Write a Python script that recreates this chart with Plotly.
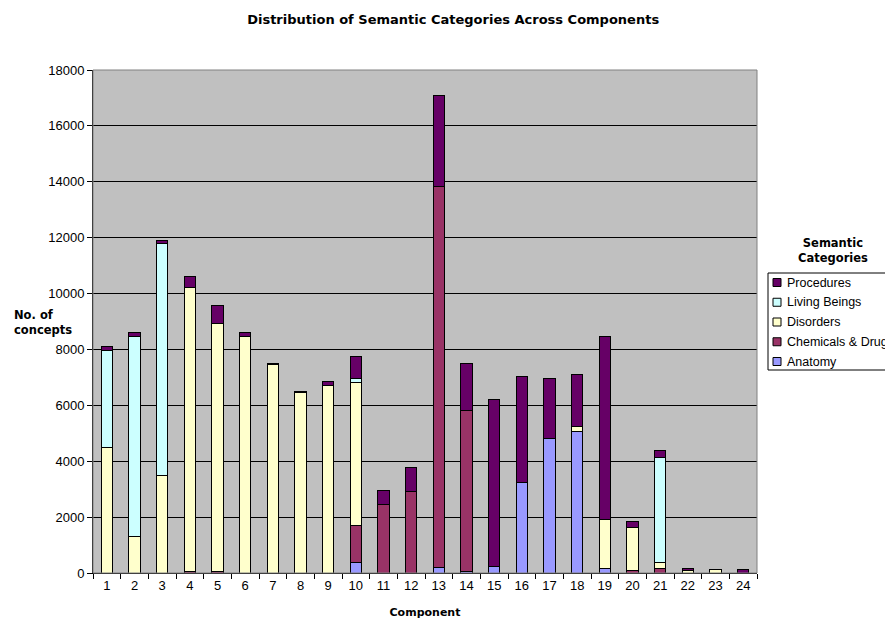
import plotly.graph_objects as go

components = [str(i) for i in range(1, 25)]
anatomy =   [0, 0, 0, 0, 0, 0, 0, 0, 0, 380, 0, 0, 190, 70, 230, 3250, 4800, 5080, 170, 0, 0, 0, 0, 0]
chemicals = [0, 0, 0, 50, 50, 0, 0, 0, 0, 1330, 2450, 2900, 13650, 5730, 0, 0, 0, 0, 0, 80, 150, 0, 0, 0]
disorders = [4500, 1300, 3500, 10150, 8880, 8450, 7450, 6450, 6700, 5120, 0, 0, 0, 0, 0, 0, 0, 180, 1730, 1540, 230, 100, 110, 0]
living =    [3450, 7160, 8300, 0, 0, 0, 0, 0, 0, 120, 0, 0, 0, 0, 0, 0, 0, 0, 0, 0, 3750, 0, 0, 0]
procedures = [150, 150, 100, 400, 650, 150, 50, 50, 150, 800, 500, 870, 3250, 1700, 5970, 3780, 2150, 1850, 6580, 240, 240, 60, 0, 120]

series = [
    ("Anatomy", anatomy, "#9999FF"),
    ("Chemicals & Drugs", chemicals, "#993366"),
    ("Disorders", disorders, "#FFFFCC"),
    ("Living Beings", living, "#CCFFFF"),
    ("Procedures", procedures, "#660066"),
]

fig = go.Figure()
for name, vals, col in series:
    fig.add_trace(go.Bar(
        x=components, y=vals, name=name, showlegend=False,
        marker=dict(color=col, line=dict(color="#000000", width=1)),
    ))

W, H = 885, 611
ML, MR, MT, MB = 85, 136, 62, 46
PW, PH = W - ML - MR, H - MT - MB


def px(fx):
    return (fx - ML) / PW


def py(fy):
    return (H - MB - fy) / PH


fig.update_layout(
    width=W, height=H,
    barmode="stack", bargap=0.6,
    paper_bgcolor="white", plot_bgcolor="#C0C0C0",
    margin=dict(l=ML, r=MR, t=MT, b=MB, autoexpand=False),
    font=dict(family="Liberation Sans, Arial", size=13, color="black"),
    title=dict(text="<b>Distribution of Semantic Categories Across Components</b>",
               x=0.503, xanchor="center", y=0.982, yanchor="middle",
               font=dict(family="DejaVu Sans", size=13, color="black")),
    showlegend=False,
)

fig.update_xaxes(
    type="category", tickson="boundaries", ticks="outside", ticklen=5,
    tickcolor="black", showline=True, linecolor="black", linewidth=1,
    showgrid=False, tickfont=dict(size=13),
    title=dict(text="<b>Component</b>", standoff=16,
               font=dict(family="DejaVu Sans", size=11)),
)
fig.update_yaxes(
    range=[0, 18000], dtick=2000, ticks="outside", ticklen=5, tickcolor="black",
    showline=True, linecolor="black", linewidth=1,
    showgrid=True, gridcolor="black", gridwidth=1, zeroline=False,
    tickformat="d", tickfont=dict(size=13),
)

fig.add_shape(type="rect", xref="paper", yref="paper", x0=0, y0=0, x1=1, y1=1,
              line=dict(color="#808080", width=1), layer="above")

# legend box (custom, Excel style)
box_top, box_bot = 265, 362
fig.add_shape(type="rect", xref="paper", yref="paper",
              x0=px(760), x1=px(890), y0=py(box_bot), y1=py(box_top),
              fillcolor="white", line=dict(color="black", width=1), layer="above")
for i, (name, vals, col) in enumerate(reversed(series)):
    cy = box_top + 9.5 + i * 19.75
    fig.add_shape(type="rect", xref="paper", yref="paper",
                  x0=px(765), x1=px(773), y0=py(cy + 4), y1=py(cy - 4),
                  fillcolor=col, line=dict(color="black", width=1), layer="above")
    fig.add_annotation(text=name, xref="paper", yref="paper", x=px(777), y=py(cy),
                       xanchor="left", yanchor="middle", showarrow=False,
                       font=dict(family="Liberation Sans, Arial", size=12.5))

fig.add_annotation(text="<b>No. of<br>concepts</b>", xref="paper", yref="paper",
                   x=px(4), y=py(314), xanchor="left", yanchor="middle", showarrow=False,
                   align="left", font=dict(family="DejaVu Sans", size=11.5))
fig.add_annotation(text="<b>Semantic<br>Categories</b>", xref="paper", yref="paper",
                   x=px(825), y=py(242), xanchor="center", yanchor="middle", showarrow=False,
                   align="center", font=dict(family="DejaVu Sans", size=11.5))

fig.write_html("out.html")
